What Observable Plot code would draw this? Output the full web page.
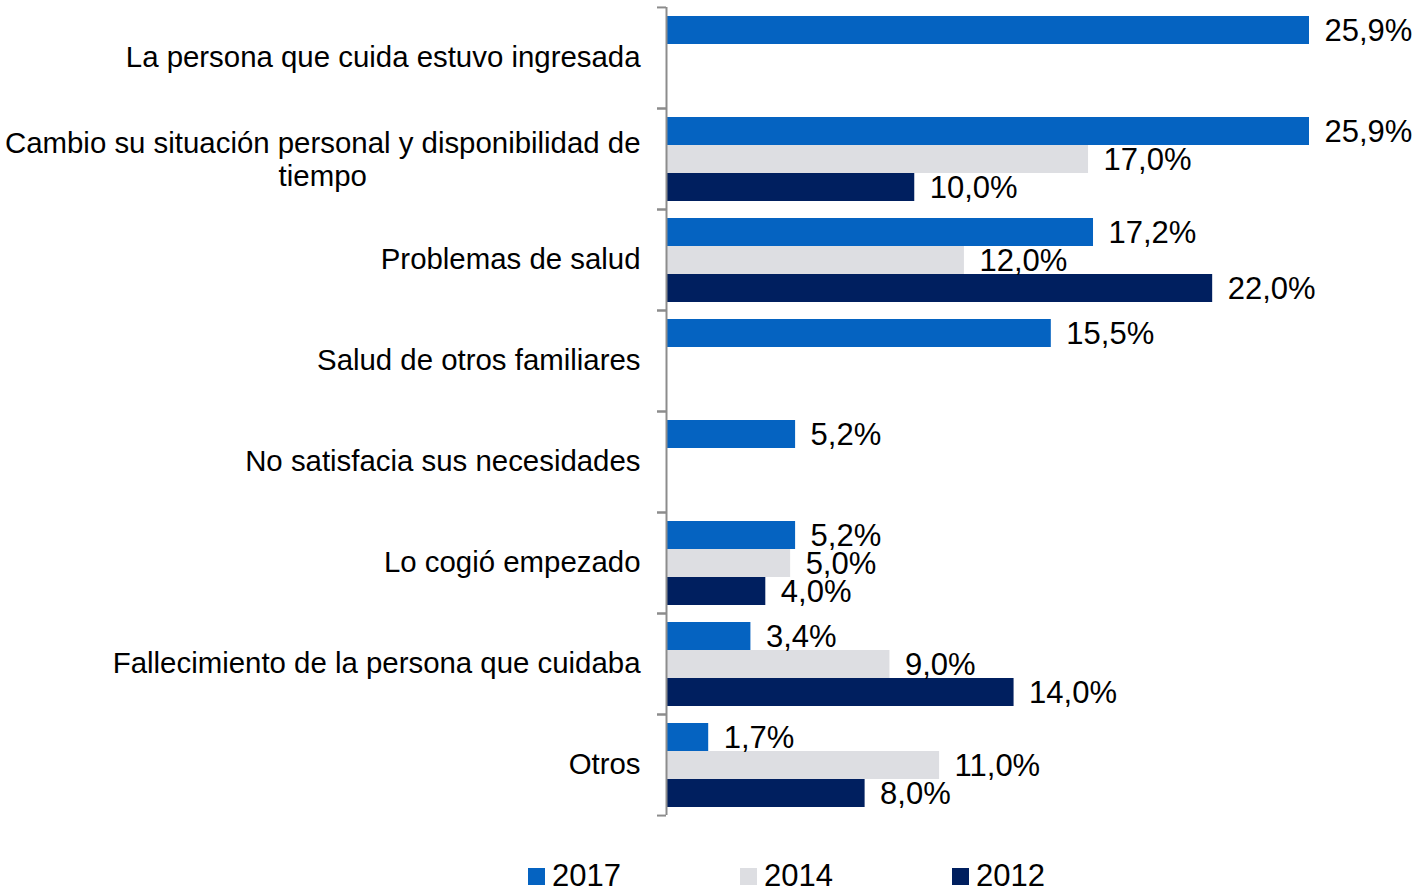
<!DOCTYPE html>
<html>
<head>
<meta charset="utf-8">
<script src="https://cdn.jsdelivr.net/npm/d3@7"></script>
<script src="https://cdn.jsdelivr.net/npm/@observablehq/plot@0.6"></script>
<style>
  body { margin: 0; background: #fff; font-family: "Liberation Sans", Arial, sans-serif; }
  #legend { position: relative; height: 36px; margin-top: 6px; }
  .item { position: absolute; top: 0; display: flex; align-items: center; height: 36px; font-size: 31px; color: #000; }
  .sw { width: 17px; height: 17px; margin-right: 7px; }
</style>
</head>
<body>
<div id="chart"></div>
<div id="legend"></div>
<script>
const categories = [
  "La persona que cuida estuvo ingresada",
  "Cambio su situación personal y disponibilidad de tiempo",
  "Problemas de salud",
  "Salud de otros familiares",
  "No satisfacia sus necesidades",
  "Lo cogió empezado",
  "Fallecimiento de la persona que cuidaba",
  "Otros"
];
const categoryLabels = [
  "La persona que cuida estuvo ingresada",
  "Cambio su situación personal y disponibilidad de\ntiempo",
  "Problemas de salud",
  "Salud de otros familiares",
  "No satisfacia sus necesidades",
  "Lo cogió empezado",
  "Fallecimiento de la persona que cuidaba",
  "Otros"
];
const years = ["2017", "2014", "2012"];
const values2017 = [25.9, 25.9, 17.2, 15.5, 5.2, 5.2, 3.4, 1.7];
const values2014 = [null, 17.0, 12.0, null, null, 5.0, 9.0, 11.0];
const values2012 = [null, 10.0, 22.0, null, null, 4.0, 14.0, 8.0];
const colors = ["#0563c1", "#dddee2", "#001f5f"];

const series = [values2017, values2014, values2012];
const data = [];
categories.forEach((c, i) => {
  years.forEach((y, j) => {
    const v = series[j][i];
    if (v != null) data.push({category: c, year: y, value: v});
  });
});
const fmt = v => v.toFixed(1).replace(".", ",") + "%";

const W = 1420, H = 852, mTop = 6, mBottom = 37, mLeft = 666, mRight = 111;
const half = (H - mTop - mBottom) / categories.length / 2;
const catFont = 29.4;

const canvas = document.createElement("canvas");
const ctx = canvas.getContext("2d");
ctx.font = `${catFont}px "Liberation Sans"`;
const multi = categories.map((c, i) => ({category: c, label: categoryLabels[i]})).filter(d => d.label.includes("\n"));
const single = categories.map((c, i) => ({category: c, label: categoryLabels[i]})).filter(d => !d.label.includes("\n"));

const axisStyle = {anchor: "left", tickSize: 9, tickFormat: () => "", label: null, stroke: "#8c8c8c", strokeWidth: 2};

const marks = [
  Plot.barX(data, {x: "value", y: "year", fy: "category", fill: "year"}),
  Plot.text(data, {x: "value", y: "year", fy: "category", text: d => fmt(d.value), textAnchor: "start", dx: 15, dy: 1, fontSize: 31, fill: "#000"}),
  Plot.ruleX([0], {stroke: "#8c8c8c", strokeWidth: 2}),
  Plot.axisFy({...axisStyle, dy: -half}),
  Plot.axisFy([categories[categories.length - 1]], {...axisStyle, dy: half}),
  Plot.text(single, {fy: "category", text: "label", frameAnchor: "left", textAnchor: "end", dx: -26, dy: 0, fontSize: catFont, fill: "#000"})
];
multi.forEach(d => {
  const w = ctx.measureText(d.label.split("\n")[0]).width;
  marks.push(Plot.text([d], {fy: "category", text: "label", frameAnchor: "left", textAnchor: "middle", dx: -26 - w / 2, dy: 0, lineHeight: 1.13, fontSize: catFont, fill: "#000"}));
});

const chart = Plot.plot({
  width: W, height: H,
  marginLeft: mLeft, marginRight: mRight, marginTop: mTop, marginBottom: mBottom,
  style: {fontFamily: '"Liberation Sans", Arial, sans-serif', background: "#fff"},
  x: {domain: [0, 25.9], axis: null},
  y: {domain: years, paddingInner: 0, paddingOuter: 0.26, axis: null},
  fy: {domain: categories, padding: 0, axis: null, label: null},
  color: {domain: years, range: colors},
  marks
});
document.getElementById("chart").appendChild(chart);

const legend = document.getElementById("legend");
const starts = [528, 740, 952];
years.forEach((y, i) => {
  const it = document.createElement("div");
  it.className = "item";
  it.style.left = starts[i] + "px";
  const sw = document.createElement("span");
  sw.className = "sw";
  sw.style.background = colors[i];
  it.appendChild(sw);
  const t = document.createElement("span");
  t.textContent = y;
  it.appendChild(t);
  legend.appendChild(it);
});
</script>
</body>
</html>
